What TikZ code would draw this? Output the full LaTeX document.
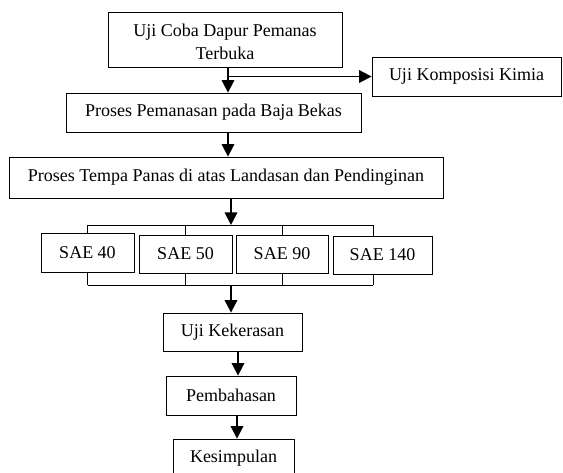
\documentclass[tikz,border=0pt]{standalone}
\usepackage{fontspec}
\setmainfont{Liberation Serif}
\usetikzlibrary{arrows.meta}
\begin{document}
\begin{tikzpicture}[x=1pt,y=-1pt,
    kotak/.style={draw,line width=0.8pt,inner sep=0pt,align=center,
      font=\fontsize{18}{22}\selectfont},
    panah/.style={line width=1.8pt,-{Triangle[width=12.5pt,length=12.5pt]}},
    garis/.style={line width=0.8pt}]
  \useasboundingbox (0,0) rectangle (563,473);
  \draw
    (225,39.5) node[kotak,minimum width=234,minimum height=55] (coba){\rule{0pt}{17pt}Uji Coba Dapur Pemanas\\[1pt]Terbuka}
    (466.5,76.5) node[kotak,minimum width=189,minimum height=39] (kimia){Uji Komposisi Kimia}
    (213.5,112.5) node[kotak,minimum width=295,minimum height=39] (pemanasan){Proses Pemanasan pada Baja Bekas}
    (226,177.5) node[kotak,minimum width=434,minimum height=41] (tempa){Proses Tempa Panas di atas Landasan dan Pendinginan}
    (87.5,252.5) node[kotak,minimum width=93,minimum height=39] (sae40){SAE 40}
    (185.5,254) node[kotak,minimum width=93,minimum height=38] (sae50){SAE 50}
    (282,254) node[kotak,minimum width=92,minimum height=38] (sae90){SAE 90}
    (382.5,255) node[kotak,minimum width=99,minimum height=38] (sae140){SAE 140}
    (232.5,332) node[kotak,minimum width=139,minimum height=38] (keras){Uji Kekerasan}
    (231,395.5) node[kotak,minimum width=130,minimum height=39] (bahas){Pembahasan}
    (233.5,458) node[kotak,minimum width=121,minimum height=38] (simpul){Kesimpulan};
  \coordinate (sumbu) at (228,0);
  \coordinate (atas) at (231,225);
  \coordinate (bawah) at (231,285);
  \begin{scope}[panah]
    \draw (sumbu |- coba.south) to (sumbu |- pemanasan.north);
    \draw (sumbu |- kimia.west) to (kimia.west);
    \draw (sumbu |- pemanasan.south) to (sumbu |- tempa.north);
    \draw (atas |- tempa.south) to (atas);
    \draw (bawah) to (bawah |- keras.north);
    \draw ([xshift=5.5pt]keras.south) to ([xshift=5.5pt]keras.south |- bahas.north);
    \draw ([xshift=6pt]bahas.south) to ([xshift=6pt]bahas.south |- simpul.north);
  \end{scope}
  \begin{scope}[garis]
    \draw (sae40.north |- atas) -- ([xshift=-9.5pt]sae140.north |- atas);
    \draw (sae40.north |- atas) to (sae40.north);
    \draw (sae50.north |- atas) to (sae50.north);
    \draw (sae90.north |- atas) to (sae90.north);
    \draw ([xshift=-9.5pt]sae140.north |- atas) to ([xshift=-9.5pt]sae140.north);
    \draw (sae40.south |- bawah) -- ([xshift=-9.5pt]sae140.south |- bawah);
    \draw (sae40.south) to (sae40.south |- bawah);
    \draw (sae50.south) to (sae50.south |- bawah);
    \draw (sae90.south) to (sae90.south |- bawah);
    \draw ([xshift=-9.5pt]sae140.south) to ([xshift=-9.5pt]sae140.south |- bawah);
  \end{scope}
\end{tikzpicture}
\end{document}
